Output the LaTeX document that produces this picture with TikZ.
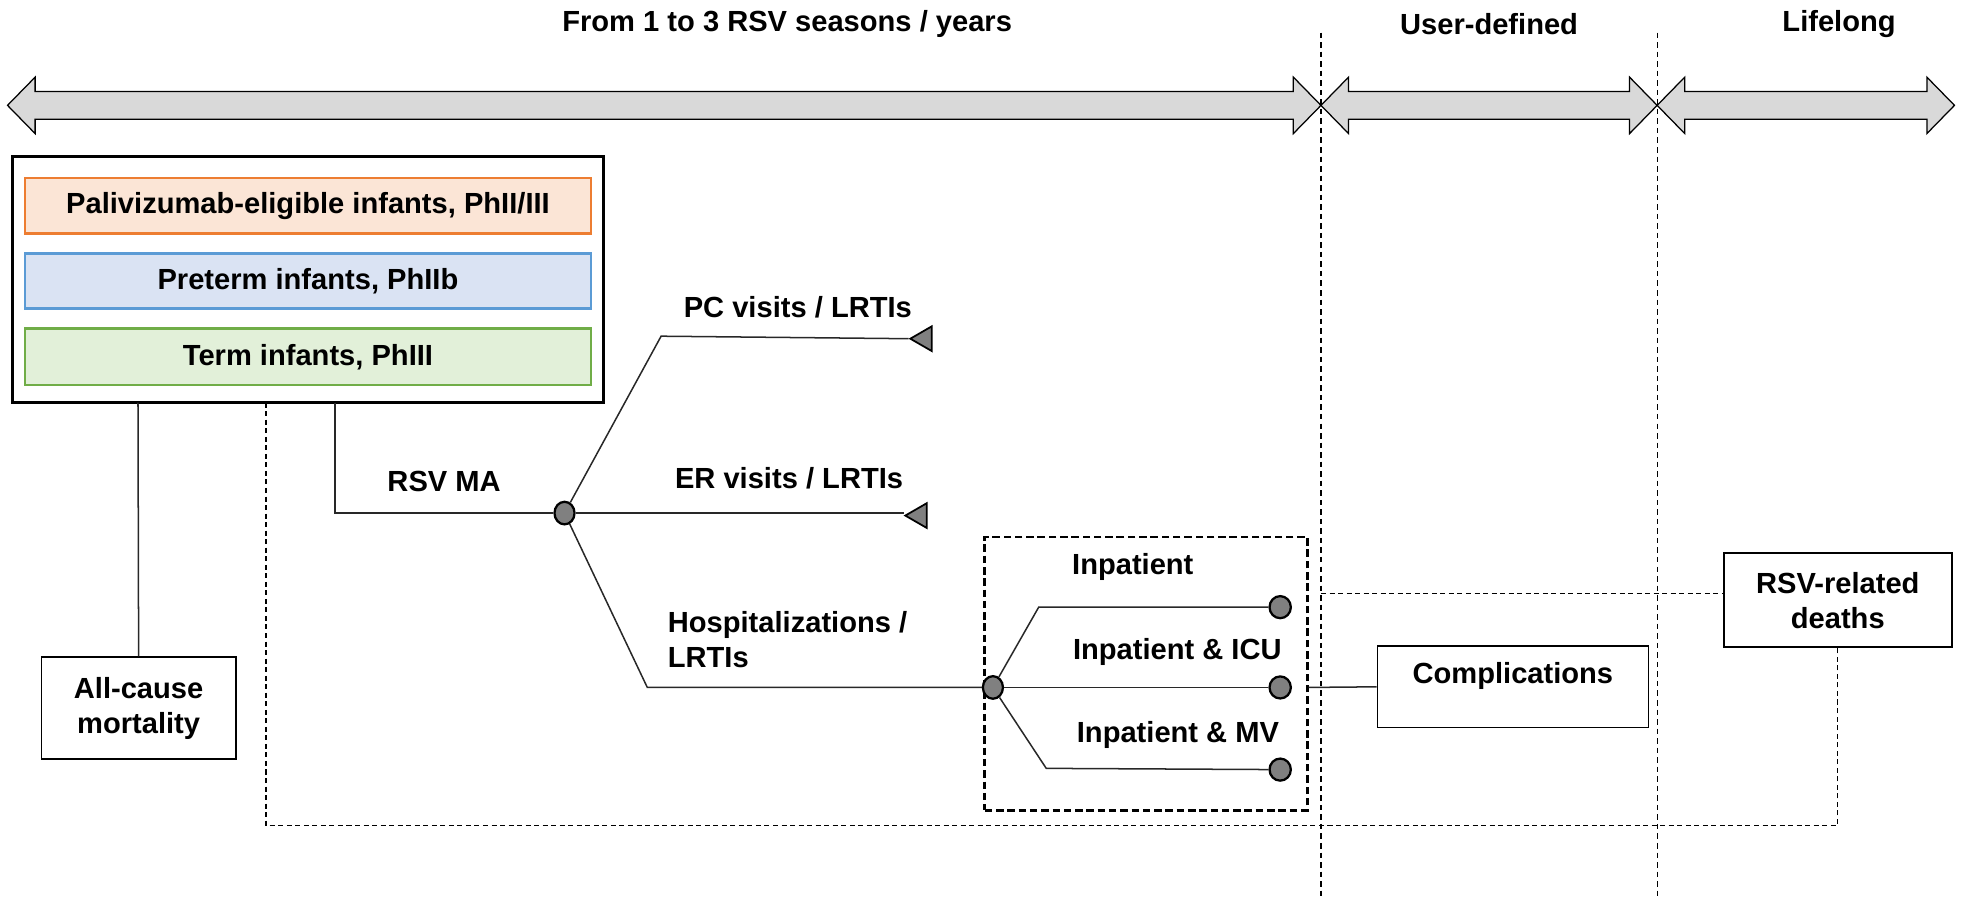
\documentclass[tikz,border=0pt]{standalone}
\usepackage{fontspec}
\setmainfont{Liberation Sans}
\usetikzlibrary{shapes.geometric}
\definecolor{arrfill}{RGB}{217,217,217}
\definecolor{palfill}{RGB}{251,229,214}
\definecolor{paldraw}{RGB}{237,125,49}
\definecolor{prefill}{RGB}{218,227,243}
\definecolor{predraw}{RGB}{91,155,213}
\definecolor{termfill}{RGB}{226,240,217}
\definecolor{termdraw}{RGB}{112,173,71}
\definecolor{nodegray}{RGB}{128,128,128}
\definecolor{linegray}{RGB}{40,40,40}
\tikzset{
  bigarrow/.style={draw=black, line width=0.5pt, fill=arrfill},
  popbox/.style={draw, line width=1pt, minimum width=225.5pt, inner sep=0pt},
  boxnode/.style={draw=black, line width=0.7pt, rectangle, align=center, inner sep=0pt},
  conn/.style={draw=linegray, line width=0.6pt},
  sep/.style={draw=black, line width=0.5pt, dash pattern=on 2.2pt off 1.6pt},
  dconn/.style={draw=black, line width=0.5pt, dash pattern=on 2pt off 1.4pt},
  chance/.style={ellipse, draw=black, line width=0.9pt, fill=nodegray, minimum width=8pt, minimum height=9pt, inner sep=0pt},
  term/.style={ellipse, draw=black, line width=0.9pt, fill=nodegray, minimum width=8.5pt, minimum height=8.8pt, inner sep=0pt},
  tri/.style={isosceles triangle, shape border rotate=180, isosceles triangle apex angle=60, draw=black, line width=0.7pt, fill=nodegray, minimum height=8.5pt, inner sep=0pt},
  lbl/.style={inner sep=0pt}
}
\begin{document}
\begin{tikzpicture}[x=0.5pt,y=-0.5pt, font=\fontsize{11.6}{14}\selectfont\bfseries]
\useasboundingbox (0,0) rectangle (1568,715);

% titles
\node[lbl] (t1) at (627.5,19) {From 1 to 3 RSV seasons / years};
\node[lbl] (t2) at (1187,19) {User-defined};
\node[lbl] (t3) at (1466,19) {Lifelong};

% separators
\coordinate (s1t) at (1053,26); \coordinate (s1b) at (1053,715);
\coordinate (s2t) at (1321,26); \coordinate (s2b) at (1321,715);

% big arrows
\draw[bigarrow] (6,84) -- (28,61.5) -- (28,73) -- (1031,73) -- (1031,61.5) -- (1053,84) -- (1031,106.5) -- (1031,95) -- (28,95) -- (28,106.5) -- cycle;
\draw[bigarrow] (1053,84) -- (1075,61.5) -- (1075,73) -- (1299,73) -- (1299,61.5) -- (1321,84) -- (1299,106.5) -- (1299,95) -- (1075,95) -- (1075,106.5) -- cycle;
\draw[bigarrow] (1321,84) -- (1343,61.5) -- (1343,73) -- (1536,73) -- (1536,61.5) -- (1558,84) -- (1536,106.5) -- (1536,95) -- (1343,95) -- (1343,106.5) -- cycle;

\draw[sep] (s1t) -- (s1b);
\draw[sep] (s2t) -- (s2b);

% population box
\node[draw=black, line width=1.2pt, minimum width=235.5pt, minimum height=98pt, inner sep=0pt] (pop) at (245.5,223) {};
\node[popbox, fill=palfill, draw=paldraw, minimum height=22pt] (pal) at (245.5,164) {Palivizumab-eligible infants, PhII/III};
\node[popbox, fill=prefill, draw=predraw, minimum height=22pt] (pre) at (245.5,224) {Preterm infants, PhIIb};
\node[popbox, fill=termfill, draw=termdraw, minimum height=22.5pt] (trm) at (245.5,284.5) {Term infants, PhIII};

% outcome boxes
\node[boxnode, minimum width=77.5pt, minimum height=40.5pt] (acm) at (110.5,564.5) {All-cause\\mortality};
\node[boxnode, minimum width=108pt, minimum height=32.5pt] (comp) at (1206,547.5) {};
\node[lbl] (comptext) at (1206,539) {Complications};
\node[boxnode, line width=0.9pt, minimum width=91pt, minimum height=37.5pt] (death) at (1465,478.5) {RSV-related\\deaths};

% dashed box
\node[draw=black, line width=1.1pt, dash pattern=on 3pt off 1.5pt, minimum width=128.5pt, minimum height=109pt, inner sep=0pt] (hbox) at (913.5,537) {};

% chance nodes
\node[chance] (c1) at (450,409) {};
\node[chance] (c2) at (791.5,548) {};

% triangles
\node[tri] (pc) at (737,270) {};
\node[tri] (er) at (733,411) {};

% terminals
\node[term] (ip) at (1020.5,484) {};
\node[term] (icu) at (1020.5,548) {};
\node[term] (mv) at (1020.5,613.5) {};

% connectors
\coordinate (ma) at (267,409);
\draw[conn] (267,321) -- (ma) -- (c1);
\draw[conn] (110,321) -- (acm.north);
\draw[conn] (c1) -- (527,268) -- (pc.apex);
\draw[conn] (c1) -- (er.apex |- c1);
\draw[conn] (c1) -- (516,548) -- (c2);
\draw[conn] (c2) -- (828,484) -- (ip);
\draw[conn] (c2) -- (icu);
\draw[conn] (c2) -- (834,612.5) -- (mv);
\draw[conn] (hbox.east |- icu) -- (comp.west);

% dashed connectors
\coordinate (dl) at (1053,473);
\draw[dconn] (dl) -- (death.west |- dl);
\draw[dconn] (212,321) -- (212,658) -- (death.south |- 0,658) -- (death.south);

% labels
\node[lbl] (lma) at (354,384) {RSV MA};
\node[lbl] (lpc) at (636,245) {PC visits / LRTIs};
\node[lbl] (ler) at (629,381) {ER visits / LRTIs};
\node[lbl, align=left, anchor=north west] (lho) at (532,487) {Hospitalizations /\\LRTIs};
\node[lbl] (lip) at (903,452) {Inpatient};
\node[lbl] (licu) at (938.5,520) {Inpatient \& ICU};
\node[lbl] (lmv) at (939,586) {Inpatient \& MV};
\end{tikzpicture}
\end{document}
